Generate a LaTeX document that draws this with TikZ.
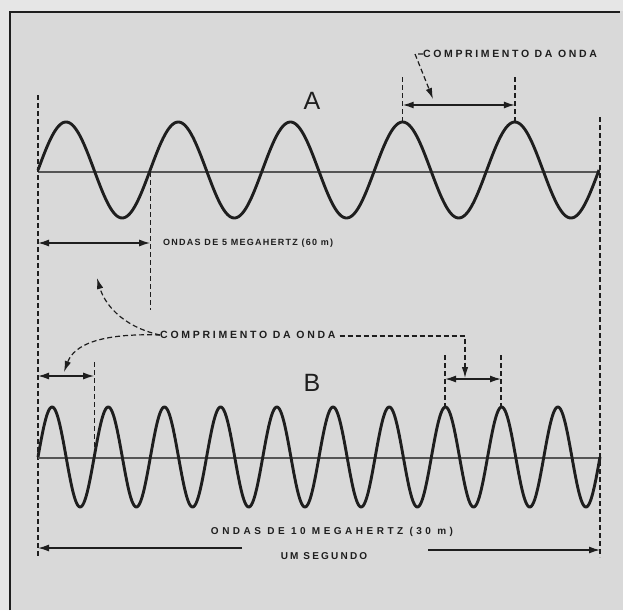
\documentclass[tikz,border=0pt]{standalone}
\usepackage{fontspec}
\setmainfont{Liberation Sans}
\newfontfamily\labfont{Liberation Sans}
\usetikzlibrary{arrows.meta}
\definecolor{bgc}{HTML}{D9D9D9}
\definecolor{ink}{HTML}{1E1E1E}
\definecolor{axisc}{HTML}{555555}
\newcommand{\lsfont}[2]{\labfont\addfontfeature{LetterSpace=#2}\bfseries\fontsize{#1}{#1}\selectfont}
\begin{document}
\begin{tikzpicture}[x=1pt,y=-1pt,
  wave/.style={ink,line width=2.9pt,line join=round},
  axisline/.style={axisc,line width=1.5pt},
  guide/.style={ink,line width=1.3pt,dash pattern=on 5pt off 3pt},
  dim/.style={ink,line width=1.4pt,{Latex[length=11pt,width=7pt]}-{Latex[length=11pt,width=7pt]}},
  onetip/.style={ink,line width=1.4pt,-{Latex[length=11pt,width=7pt]}},
  lead/.style={ink,line width=1.2pt,dash pattern=on 5pt off 3pt,-{Latex[length=11pt,width=6.5pt]}},
  lab/.style={inner sep=0pt,text=ink},
  big/.style={inner sep=0pt,text=ink,font=\fontsize{25}{26}\selectfont}]
\useasboundingbox (0,0) rectangle (623,610);
\fill[bgc] (0,0) rectangle (623,610);
\fill[white,opacity=0.35] (0,0) rectangle (9,610);
\fill[white,opacity=0.35] (9,0) rectangle (623,11);
% frame
\draw[ink,line width=2pt] (10,610) -- (10,12) -- (620,12);
% ---------------- wave A ----------------
\coordinate (A0) at (38,172);
\coordinate (A1) at (600,172);
\draw[axisline] (A0) -- (A1);
\draw[wave] plot[domain=0:1800,samples=400] ({38+\x/360*112.2},{170-48*sin(\x)});
\node[big] (lblA) at (312,101) {A};
% guides
\coordinate (gL1) at (38,95);  \coordinate (gL2) at (38,557);
\coordinate (gR1) at (600,117); \coordinate (gR2) at (600,557);
\draw[guide] (gL1) -- (gL2);
\draw[guide] (gR1) -- (gR2);
\coordinate (gA1) at (150.2,172); \coordinate (gA2) at (150.2,310);
\draw[guide] (gA1) -- (gA2);
\coordinate (pA4t) at (402.7,77); \coordinate (pA4) at (402.7,122);
\coordinate (pA5t) at (514.9,77); \coordinate (pA5) at (514.9,122);
\draw[guide] (pA4t) -- (pA4);
\draw[guide] (pA5t) -- (pA5);
% dimension A left
\coordinate (dA1) at (38,243); \coordinate (dA2) at (150.2,243);
\draw[dim] (dA1) -- (dA2);
\node[lab,anchor=west,font=\lsfont{9}{14}] (freqA) at (163,243) {ONDAS DE 5 MEGAHERTZ (60 m)};
% dimension A top
\coordinate (dT1) at (402.7,105); \coordinate (dT2) at (514.9,105);
\draw[dim] (dT1) -- (dT2);
\node[lab,anchor=west,font=\lsfont{10.5}{25}] (compA) at (423,54) {COMPRIMENTO DA ONDA};
\coordinate (tipA) at (433,99);
\draw[lead] (compA.west) -- ++(-8,0) -- (tipA);
% ---------------- wave B ----------------
\coordinate (B0) at (38,458);
\coordinate (B1) at (600,458);
\draw[axisline] (B0) -- (B1);
\draw[wave] plot[domain=0:3600,samples=700] ({38+\x/360*56.2},{457-50*sin(\x)});
\node[big] (lblB) at (312,383) {B};
\coordinate (gB1) at (94.2,362); \coordinate (gB2) at (94.2,458);
\draw[guide] (gB1) -- (gB2);
\coordinate (pB8t) at (445,355); \coordinate (pB8) at (445,407);
\coordinate (pB9t) at (501,355); \coordinate (pB9) at (501,407);
\draw[guide] (pB8t) -- (pB8);
\draw[guide] (pB9t) -- (pB9);
\coordinate (dB1) at (38,376); \coordinate (dB2) at (94.2,376);
\draw[dim] (dB1) -- (dB2);
\coordinate (dR1) at (445,379); \coordinate (dR2) at (501,379);
\draw[dim] (dR1) -- (dR2);
% middle label and leaders
\node[lab,anchor=west,font=\lsfont{10.5}{26}] (compB) at (160,335) {COMPRIMENTO DA ONDA};
\coordinate (tipUp) at (97,278);
\coordinate (tipDn) at (64,372);
\coordinate (cB) at (465,336);
\coordinate (tipB) at (465,378);
\draw[lead] (compB.west) .. controls (120,326) and (104,302) .. (tipUp);
\draw[lead] (compB.west) .. controls (100,333) and (74,345) .. (tipDn);
\draw[lead] (compB.east) ++(4,1) -- (cB) -- (tipB);
% bottom
\node[lab,font=\lsfont{10}{35}] (freqB) at (332,532) {ONDAS DE 10 MEGAHERTZ (30 m)};
\node[lab,font=\lsfont{10}{22}] (sec) at (324,556) {UM SEGUNDO};
\coordinate (s1) at (38,548); \coordinate (s2) at (242,548);
\coordinate (s3) at (428,550); \coordinate (s4) at (600,550);
\draw[onetip] (s2) -- (s1);
\draw[onetip] (s3) -- (s4);
\end{tikzpicture}
\end{document}
